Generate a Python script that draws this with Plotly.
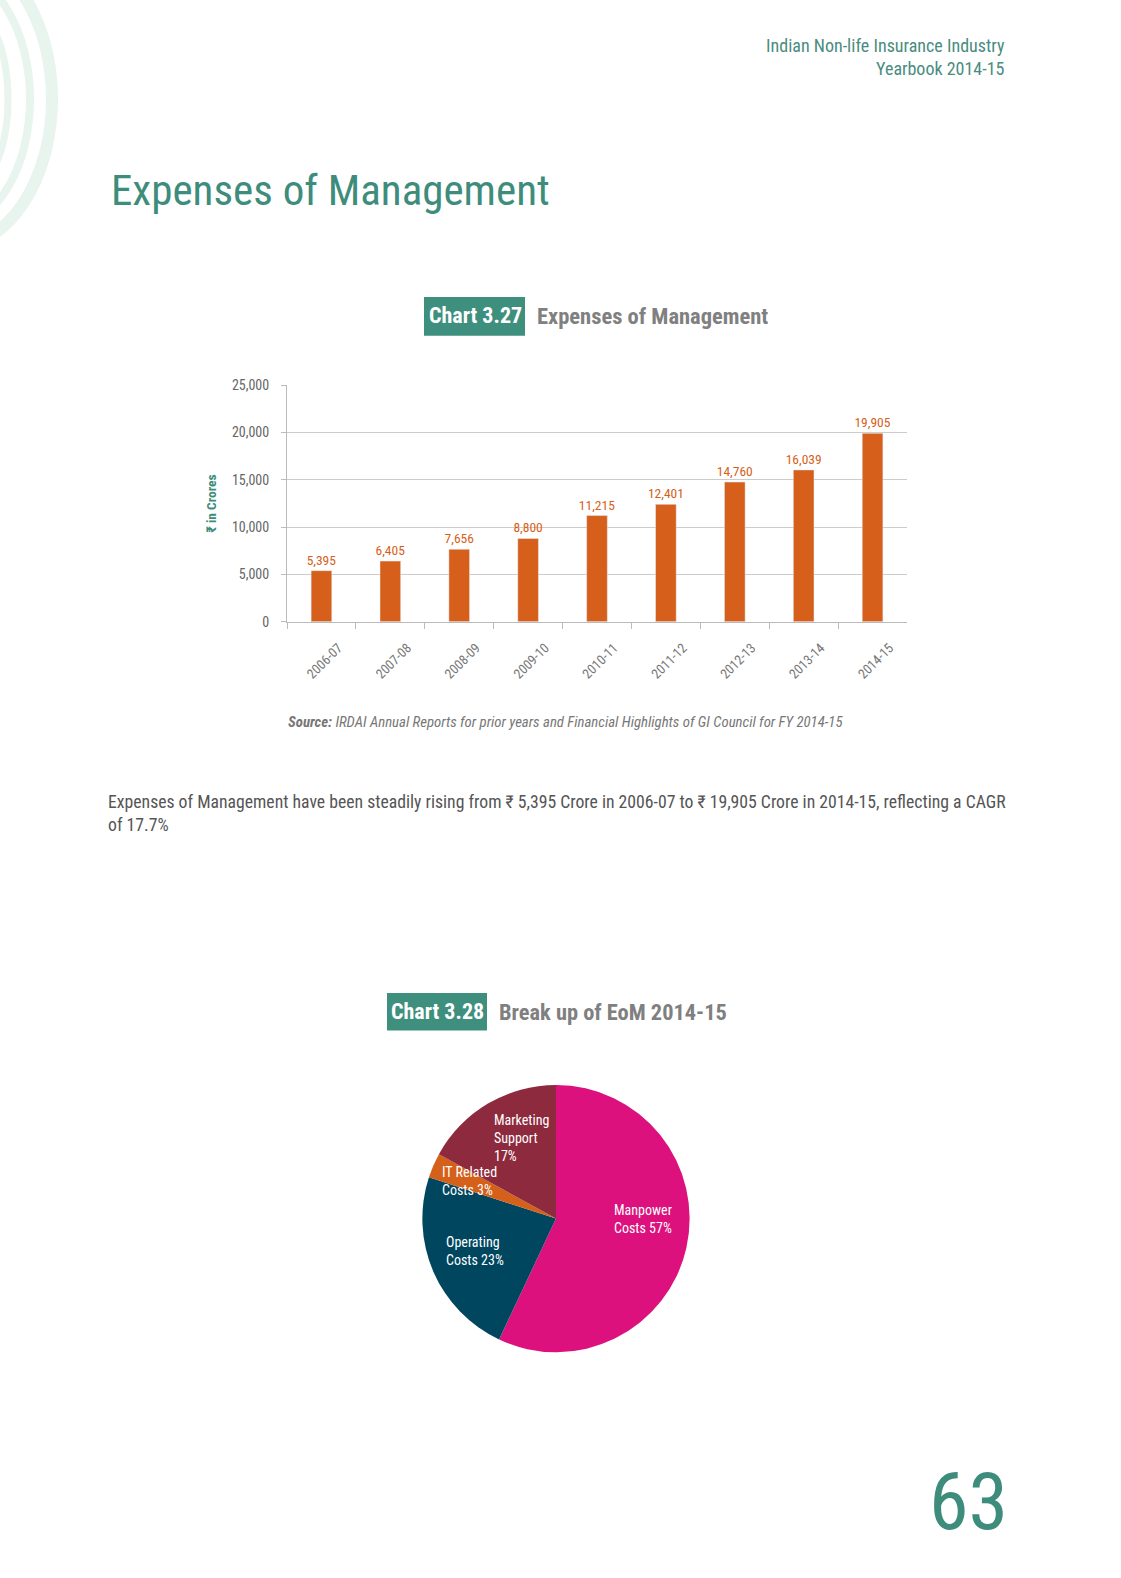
import plotly.graph_objects as go

W, H = 1121, 1578

# ---- data ----
years = ["2006-07", "2007-08", "2008-09", "2009-10", "2010-11",
         "2011-12", "2012-13", "2013-14", "2014-15"]
eom = [5395, 6405, 7656, 8800, 11215, 12401, 14760, 16039, 19905]
y_ticks = [0, 5000, 10000, 15000, 20000, 25000]

pie_labels = ["Manpower<br>Costs", "Operating<br>Costs", "IT Related<br>Costs", "Marketing<br>Support<br>"]
pie_values = [57, 23, 3, 17]
pie_colors = ["#DC117E", "#00465F", "#D4601A", "#8E2A3D"]

FONT = "Roboto Condensed, Liberation Sans Narrow, Roboto, sans-serif"
TEAL = "#3E8C7B"
BAR = "#D65F1B"


def px(x):
    return x / W


def py(y):
    return 1 - y / H


fig = go.Figure()

fig.add_trace(go.Bar(
    x=years, y=eom, marker_color=BAR, width=0.3,
    text=[f"{v:,}" for v in eom], textposition="outside", constraintext="none",
    textfont=dict(color=BAR, size=13.5, family=FONT),
    cliponaxis=False, xaxis="x", yaxis="y", showlegend=False,
))

fig.add_trace(go.Pie(
    labels=pie_labels, values=pie_values, sort=False, direction="clockwise",
    rotation=0, marker=dict(colors=pie_colors, line=dict(width=0)),
    textinfo="none", hoverinfo="label+percent", showlegend=False,
    domain=dict(x=[px(421), px(691)], y=[py(1358), py(1088)]),
))

fig.update_layout(
    width=W, height=H, margin=dict(l=0, r=0, t=0, b=0),
    paper_bgcolor="white", plot_bgcolor="white",
    font=dict(family=FONT, color="#666666"),
    xaxis=dict(
        type="category",
        domain=[px(287), px(907)], tickangle=-45,
        tickfont=dict(size=13.5, color="#777777"),
        showline=True, linecolor="#BBBBBB", linewidth=1,
        ticks="outside", tickson="boundaries", ticklen=6, tickcolor="#BBBBBB",
        ticklabelshift=17, ticklabelstandoff=12,
        showgrid=False, anchor="y",
    ),
    yaxis=dict(
        domain=[py(620), py(381)], range=[0, 25000], tickvals=y_ticks,
        tickformat=",", tickfont=dict(size=14, color="#666666"),
        showline=True, linecolor="#BBBBBB", linewidth=1,
        ticks="outside", ticklen=5, tickcolor="#BBBBBB", ticklabelstandoff=9,
        showgrid=True, gridcolor="#CCCCCC", gridwidth=1,
        zeroline=False, anchor="x",
        title=dict(text="<b>₹ in Crores</b>", font=dict(size=13.5, color=TEAL), standoff=12),
    ),
)

shapes = []
# decorative arcs top-left
for rx, ry, w in [(100, 150, 12), (78, 128, 8), (56, 106, 7), (34, 84, 6)]:
    cx, cy = -48, 92
    shapes.append(dict(type="circle", xref="paper", yref="paper",
                       x0=px(cx - rx), x1=px(cx + rx), y0=py(cy + ry), y1=py(cy - ry),
                       line=dict(color="#E8F4EE", width=w), fillcolor="rgba(0,0,0,0)",
                       layer="below"))
# chart badges
for (x0, y0, x1, y1) in [(424, 292, 525, 331), (387, 995, 487, 1033)]:
    shapes.append(dict(type="rect", xref="paper", yref="paper",
                       x0=px(x0), x1=px(x1), y0=py(y1), y1=py(y0),
                       fillcolor="#3F8F7E", line=dict(width=0)))
fig.update_layout(shapes=shapes)

ann = []


def A(text, x, y, size, color, xanchor="left", yanchor="middle", align="left"):
    ann.append(dict(text=text, x=px(x), y=py(y), xref="paper", yref="paper",
                    showarrow=False, xanchor=xanchor, yanchor=yanchor, align=align,
                    font=dict(size=size, color=color, family=FONT)))


A("Indian Non-life Insurance Industry<br>Yearbook 2014-15", 1007, 50, 18, "#4A8C80",
  xanchor="right", align="right")
A("Expenses of Management", 109, 184, 43, TEAL)
A("<b>Chart 3.27</b>", 475, 311, 22, "white", xanchor="center")
A("<b>Expenses of Management</b>", 535, 311, 22.5, "#808080")
A("<b><i>Source:</i></b><i> IRDAI Annual Reports for prior years and Financial Highlights of GI Council for FY 2014-15</i>",
  286, 721, 14.8, "#777777")
A("Expenses of Management have been steadily rising from ₹ 5,395 Crore in 2006-07 to ₹ 19,905 Crore in 2014-15, reflecting a CAGR<br>of 17.7%",
  106, 814, 17.7, "#555555")
A("<b>Chart 3.28</b>", 437, 1014, 22, "white", xanchor="center")
A("<b>Break up of EoM 2014-15</b>", 497, 1014, 22.4, "#808080")

pie_pos = [(612, 1223), (444, 1256), (440, 1185), (492, 1142)]
for lab, val, (x, y) in zip(pie_labels, pie_values, pie_pos):
    sep = "" if lab.endswith("<br>") else " "
    A(f"{lab}{sep}{val}%", x, y, 14, "white")

A("63", 1010, 1509, 80, TEAL, xanchor="right")

fig.update_layout(annotations=ann)
fig.write_html("out.html", config={"displayModeBar": False},
               post_script="document.body.style.margin='0';document.body.style.overflow='hidden';")
